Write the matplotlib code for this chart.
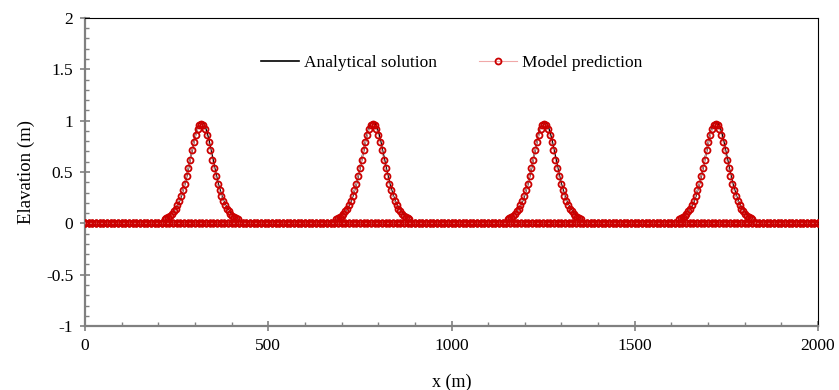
import numpy as np
import matplotlib.pyplot as plt
from matplotlib.ticker import MultipleLocator

# crest positions (m) of the four waves
crest_x = [318, 786, 1254, 1722]

peak_offsets = [-100, -95, -90, -85, -80, -75, -70, -65, -60, -55, -50, -45, -40,
                -35, -30, -25, -20, -15, -10, -5, 0, 5, 10, 15, 20, 25, 30, 35,
                40, 45, 50, 55, 60, 65, 70, 75, 80, 85, 90, 95, 100]
model_half = [0.97, 0.96, 0.92, 0.86, 0.79, 0.71, 0.62, 0.54, 0.46, 0.38, 0.32,
              0.27, 0.22, 0.18, 0.14, 0.12, 0.09, 0.07, 0.06, 0.05, 0.04]
analytic_half = [0.99, 0.98, 0.94, 0.88, 0.81, 0.72, 0.64, 0.55, 0.47, 0.39, 0.33,
                 0.27, 0.22, 0.18, 0.15, 0.12, 0.10, 0.08, 0.06, 0.05, 0.04]
# small trailing ripple behind each wave in the model (offset, elevation)
ripple_dx = [-260, -250, -240, -230, -220, -210, -200, -190, -180, -170, -160, -150]
ripple_y = [0.0, 0.01, 0.015, 0.015, 0.01, 0.0, -0.01, -0.015, -0.015, -0.01, 0.0, 0.01]

flat_x = np.arange(0, 2001, 10)


def profile(half):
    # half list runs crest -> +100 m; mirror it for the rising side
    vals = list(reversed(half[1:])) + list(half)
    return np.array(vals)


def build_series(c, half, ripple=False):
    xs, ys = [], []
    for x in flat_x:
        if abs(x - c) > 100:
            xs.append(x)
            ys.append(0.0)
    if ripple:
        for dx, dy in zip(ripple_dx, ripple_y):
            x = c + dx
            if x in xs:
                ys[xs.index(x)] = dy
    xs += [c + o for o in peak_offsets]
    ys += list(profile(half))
    order = np.argsort(xs)
    return np.array(xs)[order], np.array(ys)[order]


plt.rcParams['font.family'] = ['Liberation Serif', 'DejaVu Serif']
fig = plt.figure(figsize=(8.39, 3.9), dpi=100)
ax = fig.add_axes([0.1013, 0.164, 0.8737, 0.790])

for i, c in enumerate(crest_x):
    xa, ya = build_series(c, analytic_half)
    ax.plot(xa, ya, color='black', lw=1.2, zorder=2,
            label='Analytical solution' if i == 0 else None)
for i, c in enumerate(crest_x):
    xm, ym = build_series(c - 1, model_half, ripple=True)
    ax.plot(xm, ym, color='#f0a8a8', lw=0.8, marker='o', ms=4.3, mfc='none',
            mec='#cc0000', mew=1.3, zorder=3,
            label='Model prediction' if i == 0 else None)

ax.set_xlim(0, 2000)
ax.set_ylim(-1, 2)
ax.xaxis.set_major_locator(MultipleLocator(500))
ax.xaxis.set_minor_locator(MultipleLocator(100))
ax.yaxis.set_major_locator(MultipleLocator(0.5))
ax.yaxis.set_minor_locator(MultipleLocator(0.1))
ax.yaxis.set_major_formatter(plt.FuncFormatter(lambda v, p: f'{v:g}'))

for s in ['left', 'bottom']:
    ax.spines[s].set_color('#808080')
    ax.spines[s].set_linewidth(1.6)
for s in ['top', 'right']:
    ax.spines[s].set_color('black')
    ax.spines[s].set_linewidth(0.8)
ax.tick_params(which='major', direction='inout', length=7, width=1.2,
               color='#808080', labelsize=12.5, pad=5)
ax.tick_params(which='minor', direction='in', length=3, width=1.0, color='#808080')

ax.set_xlabel('x (m)', fontsize=13, labelpad=14)
ax.set_ylabel('Elavation (m)', fontsize=13.5, labelpad=8)

ax.legend(loc='upper center', bbox_to_anchor=(0.5, 0.93), ncol=2, frameon=False,
          fontsize=12.5, handlelength=2.2, handletextpad=0.3, columnspacing=2.4)

fig.savefig('out.png', dpi=100)
